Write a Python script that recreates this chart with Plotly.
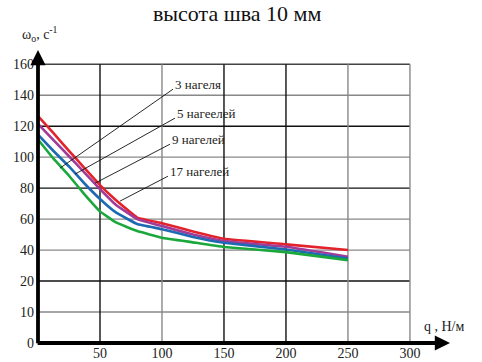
import plotly.graph_objects as go

# ---- data ----
q = [0, 12.5, 25, 37.5, 50, 62.5, 80, 100, 125, 150, 200, 250]
w_3 = [126.5, 115.5, 104, 93, 82, 72.5, 61, 57.4, 52, 47.3, 43.7, 40]
w_5 = [121.5, 111, 100.6, 90, 79.4, 69.5, 60, 55.5, 50, 45.8, 42.1, 35.7]
w_9 = [114.6, 104, 94, 83, 73, 64.5, 56.8, 53.5, 48.5, 44.7, 40.4, 34.6]
w_17 = [111.4, 99, 88, 76, 65, 58, 52.3, 48, 45, 42, 38.7, 33.5]

series_names = ["3 нагеля", "5 нагеелей", "9 нагелей", "17 нагелей"]
series_vals = [w_3, w_5, w_9, w_17]
series_colors = ["#e3232c", "#a23a98", "#1d6ab3", "#1aa83c"]

# label text positions (left edge, centre) and leader end points on curves
label_pos = [(108.9, 147), (110.5, 128.4), (106.5, 111.6), (104.8, 91)]
leader_from = [(108.9, 143.9), (110.5, 125.2), (106.5, 108.4), (104.8, 87.7)]
leader_to = [(17.7, 92.9), (29.8, 89), (46, 83.2), (66.1, 71.6)]

x_ticks = [50, 100, 150, 200, 250, 300]
x_tick_text = ["50", "100", "150", "200", "250", "300"]
x_grid_colors = ["#111111", "#888888", "#111111", "#111111", "#888888", "#888888"]

y_ticks = [-20, 0, 20, 40, 60, 80, 100, 120, 140, 160]
y_tick_text = ["0", "10", "20", "40", "60", "80", "100", "120", "140", "160"]
y_grid_colors = [None, "#888888", "#111111", "#888888", "#888888", "#111111",
                 "#888888", "#111111", "#888888", "#444444"]

title_text = "высота шва 10 мм"
y_label = "ω<sub>o</sub>, c<sup>-1</sup>"
x_label = "q , Н/м"

FONT = "Times New Roman, Liberation Serif, DejaVu Serif, serif"

fig = go.Figure()

for name, vals, col in zip(series_names, series_vals, series_colors):
    fig.add_trace(go.Scatter(x=q, y=vals, mode="lines", name=name,
                             line=dict(color=col, width=2.6, shape="spline", smoothing=0.25),
                             showlegend=False, hoverinfo="skip"))

shapes = []
x_min, x_max_grid = 0, x_ticks[-1]
y_min, y_max_grid = y_ticks[0], y_ticks[-1]
for yv, c in zip(y_ticks, y_grid_colors):
    if c is None:
        continue
    shapes.append(dict(type="line", xref="x", yref="y", x0=x_min, x1=x_max_grid,
                       y0=yv, y1=yv, line=dict(color=c, width=1.4), layer="below"))
for xv, c in zip(x_ticks, x_grid_colors):
    shapes.append(dict(type="line", xref="x", yref="y", x0=xv, x1=xv,
                       y0=y_min, y1=y_max_grid, line=dict(color=c, width=1.4), layer="below"))
for (x0, y0), (x1, y1) in zip(leader_from, leader_to):
    shapes.append(dict(type="line", xref="x", yref="y", x0=x0, y0=y0, x1=x1, y1=y1,
                       line=dict(color="#111111", width=0.9)))

annotations = []
for name, (lx, ly) in zip(series_names, label_pos):
    annotations.append(dict(x=lx, y=ly, xref="x", yref="y", text=name, showarrow=False,
                            xanchor="left", yanchor="middle",
                            font=dict(family=FONT, size=13, color="#222222")))

# axes with arrows
X_END, Y_END = 332.3, 169.2
annotations.append(dict(x=X_END, y=y_min, ax=-1.5, ay=y_min, xref="x", yref="y",
                        axref="x", ayref="y", text="", showarrow=True, arrowhead=2,
                        arrowsize=0.8, arrowwidth=3.8, arrowcolor="#000000"))
annotations.append(dict(x=0, y=Y_END, ax=0, ay=y_min - 1.2, xref="x", yref="y",
                        axref="x", ayref="y", text="", showarrow=True, arrowhead=2,
                        arrowsize=0.8, arrowwidth=3.8, arrowcolor="#000000"))

annotations.append(dict(x=-0.044, y=1.054, xref="paper", yref="paper", text=y_label,
                        showarrow=False, xanchor="left", yanchor="middle",
                        font=dict(family=FONT, size=14, color="#222222")))
annotations.append(dict(x=0.932, y=0.056, xref="paper", yref="paper", text=x_label,
                        showarrow=False, xanchor="left", yanchor="middle",
                        font=dict(family=FONT, size=14, color="#222222")))

fig.update_layout(
    width=482, height=362,
    margin=dict(l=38, r=32, t=50, b=19),
    paper_bgcolor="white", plot_bgcolor="white",
    font=dict(family=FONT, size=14, color="#222222"),
    title=dict(text=title_text, x=0.492, y=0.962, xanchor="center", yanchor="middle",
               font=dict(family=FONT, size=22, color="#111111")),
    shapes=shapes, annotations=annotations,
    xaxis=dict(range=[0, X_END], tickvals=x_ticks, ticktext=x_tick_text,
               showgrid=False, zeroline=False, showline=False, ticks="",
               automargin=False, ticklabelstandoff=0,
               tickfont=dict(family=FONT, size=14, color="#222222")),
    yaxis=dict(range=[y_min, Y_END], tickvals=y_ticks, ticktext=y_tick_text,
               showgrid=False, zeroline=False, showline=False, ticks="",
               automargin=False, ticklabelstandoff=3,
               tickfont=dict(family=FONT, size=14, color="#222222")),
)

fig.write_html("out.html")
